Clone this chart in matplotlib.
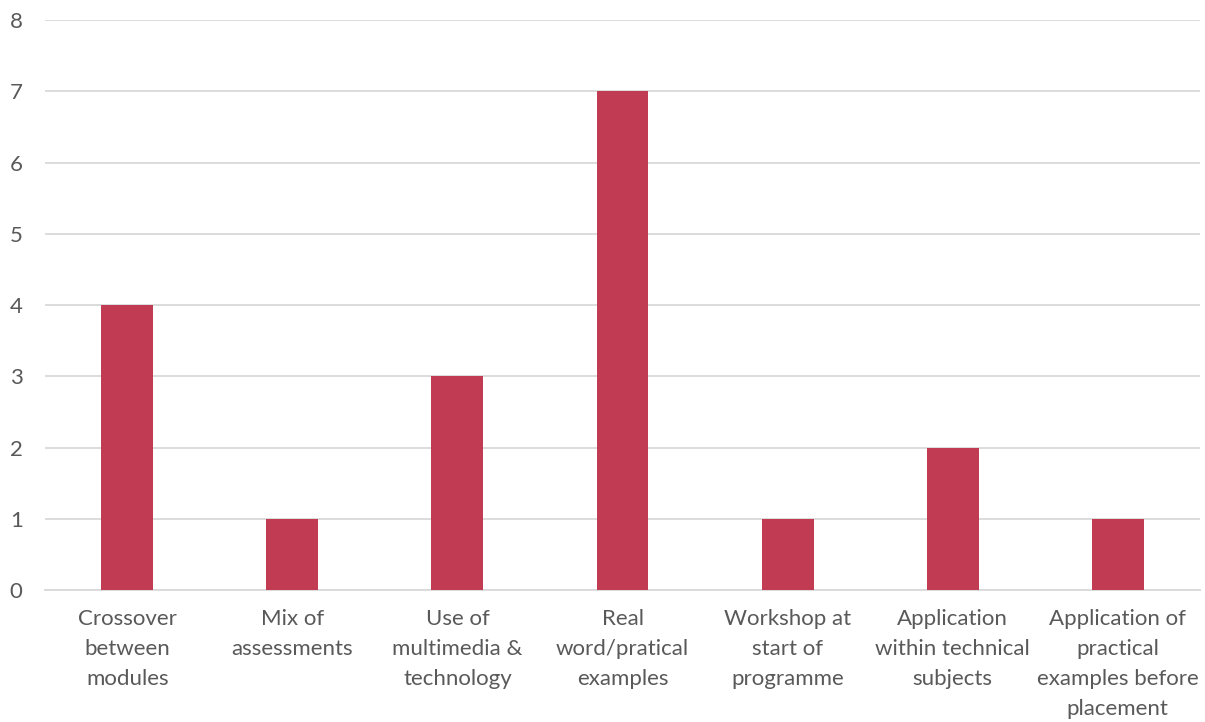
import matplotlib.pyplot as plt

categories = ['Crossover\nbetween\nmodules', 'Mix of\nassessments', 'Use of\nmultimedia &\ntechnology',
              'Real\nword/pratical\nexamples', 'Workshop at\nstart of\nprogramme',
              'Application\nwithin technical\nsubjects',
              'Application of\npractical\nexamples before\nplacement']
counts = [4, 1, 3, 7, 1, 2, 1]

plt.rcParams['font.family'] = ['Lato', 'DejaVu Sans']

fig = plt.figure(figsize=(12.05, 7.22), dpi=100)
ax = fig.add_axes([0.0373, 0.1828, 0.9586, 0.7895])

x = range(len(categories))
ax.bar(x, counts, width=0.315, color='#C13B53', zorder=3)

ax.set_xlim(-0.5, len(categories) - 0.5)
ax.set_ylim(0, 8)
ax.set_yticks(range(0, 9))
ax.set_xticks(list(x))
ax.set_xticklabels(categories, fontsize=16, color='#595959', linespacing=1.62, va='top')
ax.tick_params(axis='y', labelsize=16, labelcolor='#595959', length=0, pad=16)
ax.tick_params(axis='x', length=0, pad=14)

ax.grid(axis='y', color='#D9D9D9', linewidth=1.3, zorder=0)
for s in ['top', 'right', 'left']:
    ax.spines[s].set_visible(False)
ax.spines['bottom'].set_color('#D9D9D9')
ax.spines['bottom'].set_linewidth(1.3)

fig.savefig('out.png', dpi=100, facecolor='white')
